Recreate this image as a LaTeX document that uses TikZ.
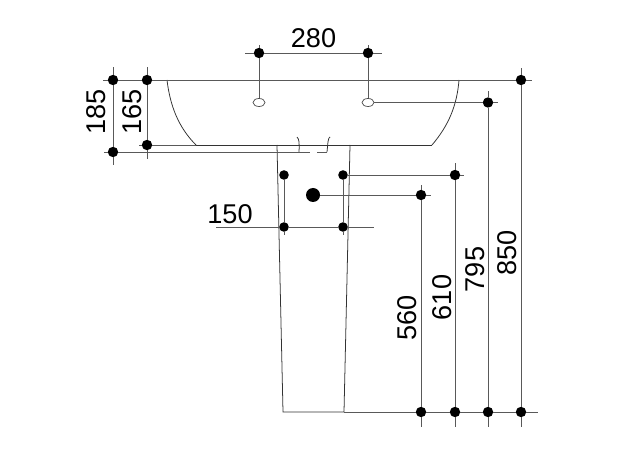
\documentclass[tikz,border=0pt]{standalone}
\usepackage{fontspec}
\setmainfont{Liberation Sans}
\usetikzlibrary{shapes.geometric}
\tikzset{
  dot/.style={circle,fill=black,inner sep=0pt,minimum size=2.6mm},
  smalldot/.style={dot,minimum size=2.4mm},
  bigdot/.style={dot,minimum size=3.5mm},
  hole/.style={draw=black!70,line width=.5pt,fill=white,ellipse,inner sep=0pt,minimum width=3mm,minimum height=2mm},
  dim/.style={draw=black!65,line width=.6pt},
  body/.style={draw=black!80,line width=.55pt},
  size/.style={font=\fontsize{19.3}{19.3}\selectfont},
}
\begin{document}
\begin{tikzpicture}[x=.25mm,y=-.25mm]
   \useasboundingbox (0,0) rectangle (640,455);
   % basin
   \draw[body] (167,80) -- (459,80);
   \draw[body] (167,80) .. controls (170,105) and (178,127) .. (196,145);
   \draw[body] (459,80) .. controls (457,105) and (449,125) .. (432,145);
   \draw[body] (196,145) -- (432,145);
   \draw[body] (297,137) .. controls (299,139) and (299.5,142) .. (299,152);
   \draw[body] (330,137) .. controls (328,138) and (328,142) .. (327,152);
   % pedestal
   \draw[body] (277,145) -- (283,412) -- (344,412) -- (350,145);
   % dots
   \node[dot] (top185) at (113,80) {};
   \node[dot] (bot185) at (113,152) {};
   \node[dot] (top165) at (147,80) {};
   \node[dot] (bot165) at (147,145) {};
   \node[dot] (left280) at (259,53) {};
   \node[dot] (right280) at (368,53) {};
   \node[dot] (top850) at (521,80) {};
   \node[dot] (bot850) at (521,412) {};
   \node[dot] (top795) at (488,102.5) {};
   \node[dot] (bot795) at (488,412) {};
   \node[dot] (top610) at (455,175) {};
   \node[dot] (bot610) at (455,412) {};
   \node[dot] (top560) at (421,195) {};
   \node[dot] (bot560) at (421,412) {};
   \node[smalldot] (tl150) at (284,175) {};
   \node[smalldot] (tr150) at (343,175) {};
   \node[smalldot] (bl150) at (284,227) {};
   \node[smalldot] (br150) at (343,227) {};
   \node[bigdot] (waste) at (313,195) {};
   \node[hole] (holeL) at (259,102.5) {};
   \node[hole] (holeR) at (368,102.5) {};
   % dimension lines
   \draw[dim] (top185) -- (bot185);
   \draw[dim] (top185) -- ++(0,-13);
   \draw[dim] (bot185) -- ++(0,13);
   \draw[dim] (top185) -- ++(-10,0);
   \draw[dim] (bot185) -- ++(-9,0);
   \draw[dim] (top165) -- (bot165);
   \draw[dim] (top165) -- ++(0,-13);
   \draw[dim] (bot165) -- ++(0,14);
   \draw[dim] (bot165) -- ++(-8,0);
   \draw[dim] (top185) -- (top165);
   \draw[dim] (top165) -- (top850);
   \draw[dim] (top850) -- ++(11,0);
   \draw[dim] (bot165) -- (196,145);
   \draw[dim] (bot185) -- (310,152);
   \draw[dim] (317,152) -- (327,152);
   \draw[dim] (left280) -- (right280);
   \draw[dim] (left280) -- ++(-14,0);
   \draw[dim] (right280) -- ++(14,0);
   \draw[dim] (left280) -- ++(0,-8);
   \draw[dim] (right280) -- ++(0,-8);
   \draw[dim] (left280) -- (holeL);
   \draw[dim] (right280) -- (holeR);
   \draw[dim] (holeR) -- (top795);
   \draw[dim] (top795) -- ++(10,0);
   \draw[dim] (top795) -- ++(0,-11);
   \draw[dim] (top795) -- (bot795);
   \draw[dim] (top850) -- ++(0,-12);
   \draw[dim] (top850) -- (bot850);
   \draw[dim] (tr150) -- (top610);
   \draw[dim] (top610) -- ++(9,0);
   \draw[dim] (top610) -- ++(0,-12);
   \draw[dim] (top610) -- (bot610);
   \draw[dim] (waste) -- (top560);
   \draw[dim] (top560) -- ++(10,0);
   \draw[dim] (top560) -- ++(0,-10);
   \draw[dim] (top560) -- (bot560);
   \draw[dim] (tl150) -- (bl150);
   \draw[dim] (bl150) -- ++(0,8);
   \draw[dim] (tr150) -- (br150);
   \draw[dim] (br150) -- ++(0,8);
   \draw[dim] (bl150) -- (br150);
   \draw[dim] (bl150) -- ++(-68,0);
   \draw[dim] (br150) -- ++(31,0);
   % base line
   \draw[dim] (bot560) -- (bot610);
   \draw[dim] (bot610) -- (bot795);
   \draw[dim] (bot795) -- (bot850);
   \draw[dim] (bot850) -- ++(17,0);
   \draw[dim] (bot560) -- (344,412);
   \draw[dim] (bot560) -- ++(0,15);
   \draw[dim] (bot610) -- ++(0,15);
   \draw[dim] (bot795) -- ++(0,15);
   \draw[dim] (bot850) -- ++(0,15);
   % labels
   \node[size] (txt280) at (313.5,38) {280};
   \node[size,rotate=90] (txt185) at (96,112) {185};
   \node[size,rotate=90] (txt165) at (132,112) {165};
   \node[size] (txt150) at (230,214) {150};
   \node[size,rotate=90] (txt560) at (407,318) {560};
   \node[size,rotate=90] (txt610) at (442,297.5) {610};
   \node[size,rotate=90] (txt795) at (475,269.5) {795};
   \node[size,rotate=90] (txt850) at (507,253) {850};
 \end{tikzpicture}
\end{document}
